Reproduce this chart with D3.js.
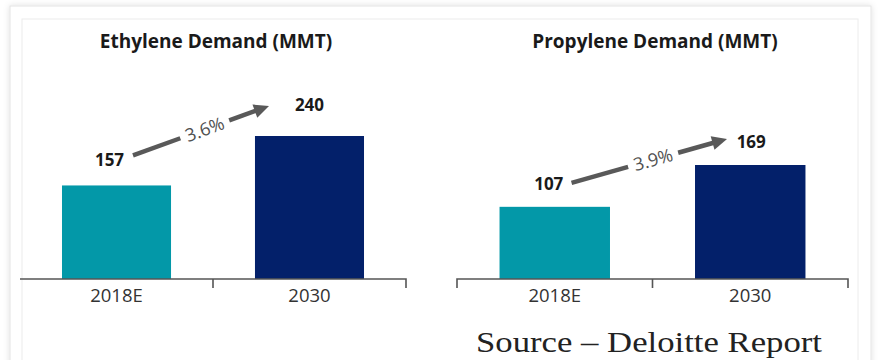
<!DOCTYPE html>
<html><head><meta charset="utf-8">
<script src="https://cdn.jsdelivr.net/npm/d3@7"></script>
<style>body{margin:0;background:#fff}svg{display:block}</style>
</head><body>
<svg id="c" width="878" height="360"></svg>
<script>
// ---- data ----
const categories = ["2018E", "2030"];
const ethyleneValues = [157, 240];
const propyleneValues = [107, 169];
const growthLabels = ["3.6%", "3.9%"];
const chartTitles = ["Ethylene Demand (MMT)", "Propylene Demand (MMT)"];
const sourceText = "Source – Deloitte Report";
const barColors = ["#0398a8", "#03206a"];

const svg = d3.select("#c");
const defs = svg.append("defs");
const f = defs.append("filter").attr("id","sh").attr("x","-5%").attr("y","-5%").attr("width","110%").attr("height","110%");
f.append("feDropShadow").attr("dx",0).attr("dy",0).attr("stdDeviation",3).attr("flood-color","#000").attr("flood-opacity",0.12);

// frames
svg.append("rect").attr("x",10).attr("y",6).attr("width",861).attr("height",380)
  .attr("fill","#fff").attr("stroke","#e4e4e4").attr("filter","url(#sh)");
svg.append("rect").attr("x",22).attr("y",19).attr("width",836).attr("height",370)
  .attr("fill","none").attr("stroke","#ececec");

const panels = [
  {title: chartTitles[0], values: ethyleneValues, growth: growthLabels[0],
   axis:[20,406], base:279, top:136, leftTick:false, titleX:216,
   lblDx:[-7,0], lblDy:[19,25], a0:[71,-30], a1:[14,-30]},
  {title: chartTitles[1], values: propyleneValues, growth: growthLabels[1],
   axis:[457,848], base:279, top:165, leftTick:true, titleX:655,
   lblDx:[-6,1], lblDy:[17,17], a0:[72,-24], a1:[32,-26]}
];

panels.forEach(p => {
  const g = svg.append("g");
  const x = d3.scaleBand().domain(categories).range(p.axis).paddingInner(0.435).paddingOuter(0.2176);
  const y = d3.scaleLinear().domain([0, d3.max(p.values)]).range([p.base, p.top]);

  g.append("text").attr("x", p.titleX).attr("y", 48).attr("text-anchor","middle")
    .attr("font-family","'Open Sans', sans-serif").attr("font-weight",700).attr("font-size",19)
    .attr("fill","#1a1a1a").text(p.title);

  g.selectAll("rect.bar").data(p.values).join("rect").attr("class","bar")
    .attr("x",(d,i)=>x(categories[i])).attr("width",x.bandwidth())
    .attr("y",d=>y(d)).attr("height",d=>y(0)-y(d)).attr("fill",(d,i)=>barColors[i]);

  // axis line with boundary ticks
  const [a,b] = p.axis, mid = (a+b)/2, t = 9;
  let path = `M${a},${p.base}H${b}V${p.base+t}M${mid},${p.base}V${p.base+t}`;
  if (p.leftTick) path = `M${a},${p.base+t}V${p.base}` + path.replace(`M${a},${p.base}`,"");
  g.append("path").attr("d",path).attr("fill","none").attr("stroke","#555").attr("stroke-width",1.6);

  const ax = g.append("g").attr("transform",`translate(0,${p.base})`)
    .call(d3.axisBottom(x).tickSize(0).tickPadding(10));
  ax.select(".domain").remove();
  ax.selectAll("text").attr("font-family","'Open Sans', sans-serif").attr("font-size",18.5).attr("fill","#333");

  // value labels
  g.selectAll("text.val").data(p.values).join("text").attr("class","val")
    .attr("x",(d,i)=>x(categories[i])+x.bandwidth()/2+p.lblDx[i])
    .attr("y",(d,i)=>y(d)-p.lblDy[i]).attr("text-anchor","middle")
    .attr("font-family","'Open Sans', sans-serif").attr("font-weight",700).attr("font-size",17)
    .attr("fill","#1a1a1a").text(d=>d);

  // growth arrow
  const P0 = [x(categories[0])+p.a0[0], y(p.values[0])+p.a0[1]];
  const P1 = [x(categories[1])+p.a1[0], y(p.values[1])+p.a1[1]];
  const dx = P1[0]-P0[0], dy = P1[1]-P0[1], L = Math.hypot(dx,dy);
  const ux = dx/L, uy = dy/L;
  const ang = Math.atan2(dy,dx)*180/Math.PI;
  const C = [(P0[0]+P1[0])/2 + ux*4, (P0[1]+P1[1])/2 + uy*4];
  const gap = 26, head = 15;
  const col = "#595959";
  g.append("line").attr("x1",P0[0]).attr("y1",P0[1]).attr("x2",C[0]-ux*gap).attr("y2",C[1]-uy*gap)
    .attr("stroke",col).attr("stroke-width",4.5);
  g.append("line").attr("x1",C[0]+ux*gap).attr("y1",C[1]+uy*gap).attr("x2",P1[0]-ux*head*0.8).attr("y2",P1[1]-uy*head*0.8)
    .attr("stroke",col).attr("stroke-width",4.5);
  const bx = P1[0]-ux*head, by = P1[1]-uy*head, w = 7;
  g.append("path").attr("d",`M${P1[0]},${P1[1]}L${bx-uy*w},${by+ux*w}L${bx+uy*w},${by-ux*w}Z`).attr("fill",col);
  g.append("text").attr("transform",`translate(${C[0]},${C[1]}) rotate(${ang})`)
    .attr("text-anchor","middle").attr("dy","0.35em")
    .attr("font-family","'Open Sans', sans-serif").attr("font-size",18).attr("fill","#505050").text(p.growth);
});

svg.append("text").attr("x",476).attr("y",352).attr("textLength",346).attr("lengthAdjust","spacingAndGlyphs")
  .attr("font-family","'Liberation Serif', serif").attr("font-size",29).attr("fill","#222").text(sourceText);
</script>
</body></html>
